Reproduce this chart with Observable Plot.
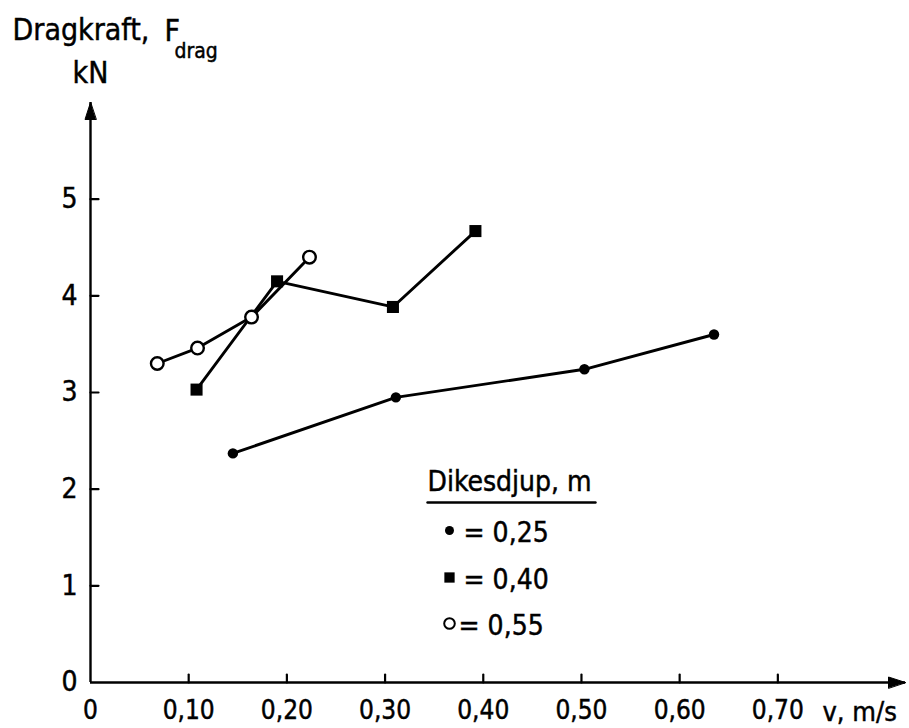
<!DOCTYPE html>
<html><head><meta charset="utf-8">
<script src="https://cdn.jsdelivr.net/npm/d3@7"></script>
<script src="https://cdn.jsdelivr.net/npm/@observablehq/plot@0.6"></script>
<style>
body{margin:0;background:#fff;}
#chart{width:909px;height:728px;}
#chart svg text{stroke:#000;stroke-width:0.45px;}
</style></head><body><div id="chart"></div>
<script>
// ---- data ----
const depthLabels = ["0,25", "0,40", "0,55"];
const v025 = [0.145, 0.311, 0.503, 0.635];
const f025 = [2.37, 2.95, 3.24, 3.60];
const v040 = [0.108, 0.190, 0.308, 0.392];
const f040 = [3.03, 4.15, 3.885, 4.67];
const v055 = [0.068, 0.109, 0.164, 0.223];
const f055 = [3.30, 3.46, 3.78, 4.40];
const xTicks = [0, 0.1, 0.2, 0.3, 0.4, 0.5, 0.6, 0.7];
const yTicks = [0, 1, 2, 3, 4, 5];
const xDomain = [0, 0.83];
const yDomain = [0, 6];
const yTitle = "Dragkraft,";
const yF = "F";
const ySub = "drag";
const yUnit = "kN";
const xTitle = "v, m/s";
const legendTitle = "Dikesdjup, m";

const rows = (vs, fs) => vs.map((v, i) => ({v, f: fs[i]}));
const s025 = rows(v025, f025), s040 = rows(v040, f040), s055 = rows(v055, f055);

const FONT = "'DejaVu Sans Condensed', 'DejaVu Sans', sans-serif";
const mL = 90, mT = 102, mR = 4, mB = 46;
// annotation offset helper relative to top-left of frame
const at = (px, py) => ({frameAnchor: "top-left", dx: px - mL, dy: py - mT});

const lineShape = {draw(c, l) { c.moveTo(0, 0); c.lineTo(0, -l); }};
const headShape = {draw(c, l) { c.moveTo(0, -l); c.lineTo(-5.5, 0); c.lineTo(5.5, 0); c.closePath(); }};
const fmtX = d => d === 0 ? "0" : d.toFixed(2).replace(".", ",");

const chart = Plot.plot({
  width: 909, height: 728,
  marginLeft: mL, marginRight: mR, marginTop: mT, marginBottom: mB,
  x: {domain: xDomain},
  y: {domain: yDomain},
  style: {fontFamily: FONT, fontSize: "26px", color: "#000", background: "#fff", overflow: "visible"},
  marks: [
    // axes lines
    Plot.ruleY([0], {stroke: "#000", strokeWidth: 2.4}),
    Plot.ruleX([0], {stroke: "#000", strokeWidth: 2.4}),
    // arrow heads
    Plot.vector([xDomain[1]], {x: d => d, y: () => 0, rotate: 90, anchor: "end", length: 17, shape: headShape, fill: "#000", stroke: "#000", strokeWidth: 1}),
    Plot.vector([yDomain[1]], {x: () => 0, y: d => d, rotate: 0, anchor: "end", length: 17, shape: headShape, fill: "#000", stroke: "#000", strokeWidth: 1}),
    // tick marks (inward)
    Plot.vector(xTicks.slice(1), {x: d => d, y: () => 0, rotate: 0, anchor: "start", length: 8, shape: lineShape, stroke: "#000", strokeWidth: 2.2}),
    Plot.vector(yTicks.slice(1), {x: () => 0, y: d => d, rotate: 90, anchor: "start", length: 8, shape: lineShape, stroke: "#000", strokeWidth: 2.2}),
    // tick labels
    Plot.axisX({ticks: xTicks, tickSize: 0, tickPadding: 18, tickFormat: fmtX, fontSize: 26, fontFamily: FONT, label: null}),
    Plot.axisY({ticks: yTicks, tickSize: 0, tickPadding: 13, tickFormat: d => String(d), fontSize: 28, fontFamily: FONT, label: null}),
    // data lines
    Plot.line(s025, {x: "v", y: "f", stroke: "#000", strokeWidth: 2.9}),
    Plot.line(s040, {x: "v", y: "f", stroke: "#000", strokeWidth: 2.9}),
    Plot.line(s055, {x: "v", y: "f", stroke: "#000", strokeWidth: 2.9}),
    // markers
    Plot.dot(s025, {x: "v", y: "f", r: 5.2, fill: "#000"}),
    Plot.dot(s040, {x: "v", y: "f", symbol: "square", r: 6.8, fill: "#000"}),
    Plot.dot(s055, {x: "v", y: "f", r: 6.3, fill: "#fff", stroke: "#000", strokeWidth: 2.4}),
    // axis titles
    Plot.text([yTitle], {...at(12, 39), text: d => d, textAnchor: "start", lineAnchor: "bottom", fontSize: 30}),
    Plot.text([yF], {...at(164, 40), text: d => d, textAnchor: "start", lineAnchor: "bottom", fontSize: 30}),
    Plot.text([ySub], {...at(174, 57), text: d => d, textAnchor: "start", lineAnchor: "bottom", fontSize: 21}),
    Plot.text([yUnit], {...at(72, 82), text: d => d, textAnchor: "start", lineAnchor: "bottom", fontSize: 30}),
    Plot.text([xTitle], {...at(822, 720), text: d => d, textAnchor: "start", lineAnchor: "bottom", fontSize: 27}),
    // legend
    Plot.text([legendTitle], {...at(427, 490), text: d => d, textAnchor: "start", lineAnchor: "bottom", fontSize: 28}),
    Plot.vector([0], {...at(427, 502), rotate: 90, anchor: "start", length: 168, shape: lineShape, stroke: "#000", strokeWidth: 2.4}),
    Plot.dot([0], {...at(449, 530), r: 4.5, fill: "#000"}),
    Plot.dot([0], {...at(449, 577), symbol: "square", r: 5.8, fill: "#000"}),
    Plot.dot([0], {...at(449, 623), r: 5.3, fill: "#fff", stroke: "#000", strokeWidth: 2}),
    Plot.text(["= " + depthLabels[0]], {...at(463, 541), text: d => d, textAnchor: "start", lineAnchor: "bottom", fontSize: 28}),
    Plot.text(["= " + depthLabels[1]], {...at(463, 588), text: d => d, textAnchor: "start", lineAnchor: "bottom", fontSize: 28}),
    Plot.text(["= " + depthLabels[2]], {...at(458, 634), text: d => d, textAnchor: "start", lineAnchor: "bottom", fontSize: 28})
  ]
});
document.getElementById("chart").appendChild(chart);
</script>
</body></html>
